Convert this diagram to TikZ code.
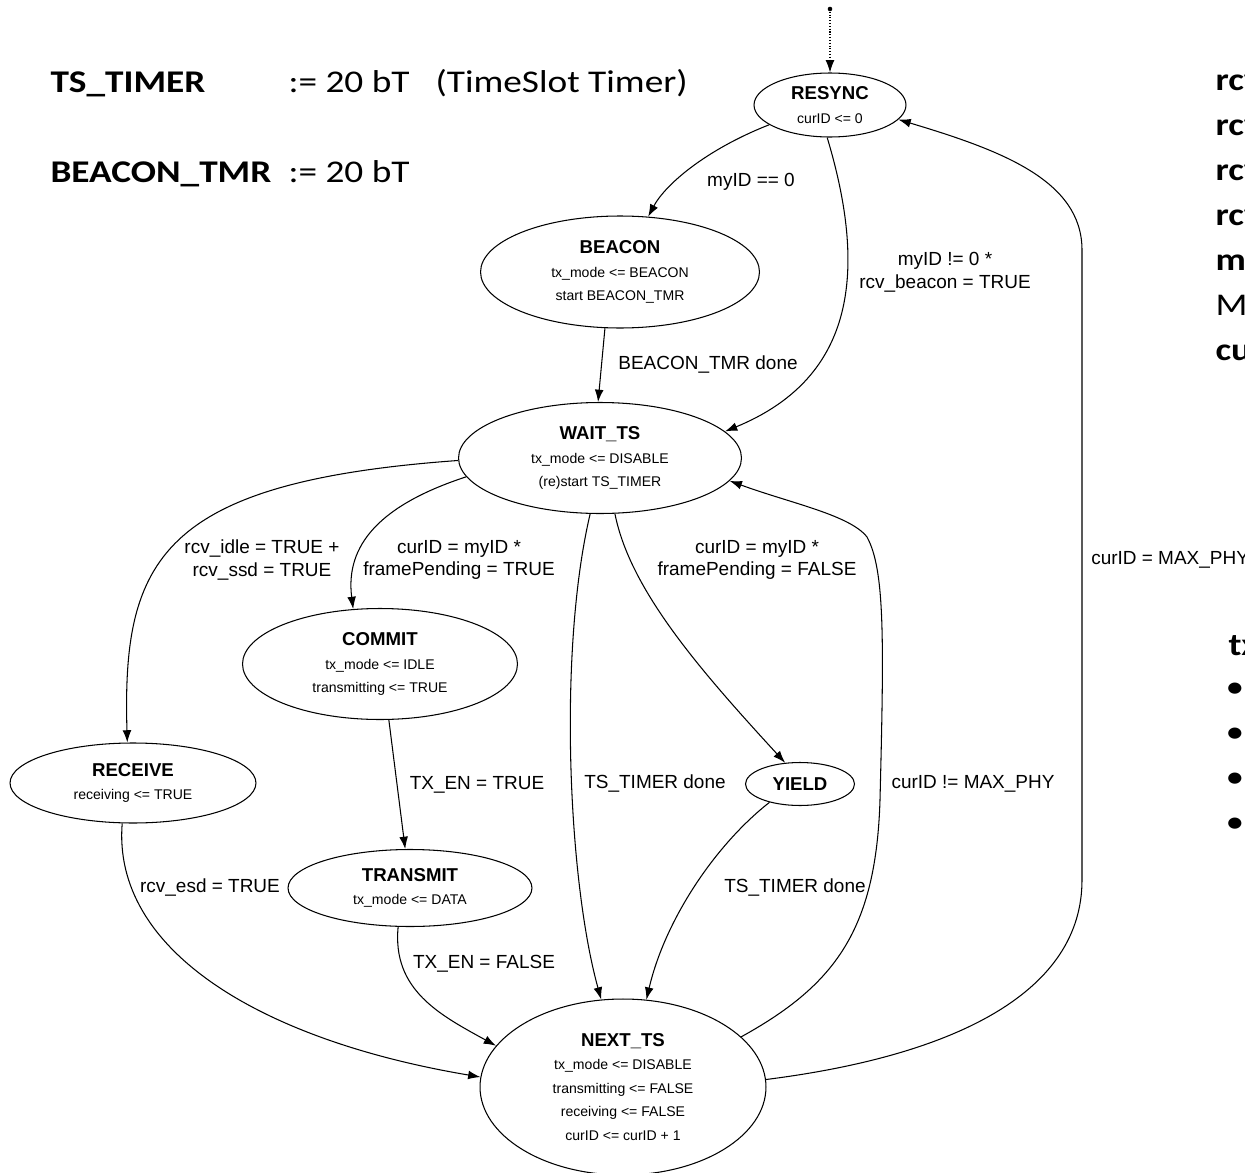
\documentclass[tikz,border=0pt]{standalone}
\usepackage{fontspec}
\setmainfont{Liberation Sans}
\newfontfamily\legendfont[FakeStretch=1.18]{Carlito}
\usetikzlibrary{shapes.geometric}
\usetikzlibrary{arrows.meta}
\tikzset{every picture/.style={line width=0.6pt},
state/.style={ellipse,draw,inner sep=0pt,align=center,font=\fontsize{8}{13.4}\selectfont},
lbl/.style={align=center,inner sep=1pt,font=\fontsize{10.8}{13}\selectfont},
legend/.style={anchor=base west,inner sep=0pt,font=\legendfont\fontsize{18}{22}\selectfont},
>={Latex[length=7pt,width=5pt]}}
\newcommand{\stname}[1]{{\fontsize{10.6}{13}\selectfont\bfseries #1}}

\begin{document}
\begin{tikzpicture}[x=0.02cm,y=-0.02cm]
\useasboundingbox (0,0) rectangle (1245,1173);
\clip (0,0) rectangle (1245,1173);

\node (tstimer) at (50,92) [legend] {\bfseries TS\_TIMER};
\node (tsval) at (288,92) [legend] {:= 20 bT};
\node (tsnote) at (435,92) [legend] {(TimeSlot Timer)};
\node (bcntmr) at (50,182) [legend] {\bfseries BEACON\_TMR};
\node (bcnval) at (288,182) [legend] {:= 20 bT};
\foreach \y/\t in {90/rcv, 135/rcv, 180/rcv, 225/rcv, 270/my, 360/cu} {
\node (r\y) at (1215,\y) [legend] {\bfseries \t};
}
\node (r315) at (1215,315) [legend] {M};
\node (tx) at (1228,655) [legend] {\bfseries tx};
\foreach \y in {690, 735, 780, 825} {
\node (b\y) at (1235,\y) [legend,anchor=center] {\textbullet};
}

\node (resync) at (830,105) [state,minimum width=3.04cm,minimum height=1.28cm] {\stname{RESYNC}\\curID <= 0};
\node (beacon) at (620,272) [state,minimum width=5.58cm,minimum height=2.24cm] {\stname{BEACON}\\tx\_mode <= BEACON\\start BEACON\_TMR};
\node (waitts) at (600,458) [state,minimum width=5.66cm,minimum height=2.22cm] {\stname{WAIT\_TS}\\tx\_mode <= DISABLE\\(re)start TS\_TIMER};
\node (commit) at (380,664) [state,minimum width=5.5cm,minimum height=2.22cm] {\stname{COMMIT}\\tx\_mode <= IDLE\\transmitting <= TRUE};
\node (receive) at (133,783) [state,minimum width=4.92cm,minimum height=1.6cm] {\stname{RECEIVE}\\receiving <= TRUE};
\node (yield) at (800,784) [state,minimum width=2.18cm,minimum height=0.86cm] {\stname{YIELD}};
\node (transmit) at (410,888) [state,minimum width=4.88cm,minimum height=1.54cm] {\stname{TRANSMIT}\\tx\_mode <= DATA};
\node (nextts) at (623,1087) [state,minimum width=5.72cm,minimum height=3.52cm] {\stname{NEXT\_TS}\\tx\_mode <= DISABLE\\transmitting <= FALSE\\receiving <= FALSE\\curID <= curID + 1};

\coordinate (init) at (830,9);
\fill (init) circle (1.3pt);
\draw[densely dotted,->] (init) -- (resync);

\draw[->] (resync.198) .. controls (705,150) and (665,185) .. (beacon.63);
\draw[->] (resync.265) .. controls (870,280) and (850,380) .. (waitts.12);
\draw[->] (beacon.255) -- (waitts.92);
\draw[->] (waitts.181) .. controls (160,482) and (122,560) .. (receive.98);
\draw[->] (waitts.188) .. controls (380,505) and (345,545) .. (commit.116);
\draw[->] (waitts.260) .. controls (558,650) and (568,880) .. (nextts.104);
\draw[->] (waitts.285) .. controls (630,590) and (700,670) .. (yield.125);
\draw[->] (commit.279) -- (transmit.97);
\draw[->] (receive.255) .. controls (112,950) and (260,1040) .. (nextts.176);
\draw[->] (transmit.253) .. controls (392,990) and (440,1015) .. (nextts.162);
\draw[->] (yield.211) .. controls (715,845) and (665,920) .. (nextts.75);
\draw[->] (nextts.23) .. controls (835,985) and (876,930) .. (880,800) .. controls (884,640) and (885,570) .. (867,537) .. controls (850,515) and (790,503) .. (waitts.-10);
\draw[->] (nextts.3) .. controls (960,1055) and (1082,990) .. (1082,880) -- (1082,250) .. controls (1082,180) and (1000,150) .. (resync.-12);

\node (l1) at (751,182) [lbl] {myID == 0};
\node (l2) at (945,272) [lbl] {myID != 0 *\\rcv\_beacon = TRUE};
\node (l3) at (708,365) [lbl] {BEACON\_TMR done};
\node (l4) at (262,560) [lbl] {rcv\_idle = TRUE +\\rcv\_ssd = TRUE};
\node (l5) at (459,560) [lbl] {curID = myID *\\framePending = TRUE};
\node (l6) at (757,560) [lbl] {curID = myID *\\framePending = FALSE};
\node (l7) at (1089,560) [lbl,anchor=west] {curID = MAX\_PHY};
\node (l8) at (477,785) [lbl] {TX\_EN = TRUE};
\node (l9) at (655,784) [lbl] {TS\_TIMER done};
\node (l10) at (973,784) [lbl] {curID != MAX\_PHY};
\node (l11) at (210,888) [lbl] {rcv\_esd = TRUE};
\node (l12) at (795,888) [lbl] {TS\_TIMER done};
\node (l13) at (484,964) [lbl] {TX\_EN = FALSE};
\end{tikzpicture}
\end{document}
